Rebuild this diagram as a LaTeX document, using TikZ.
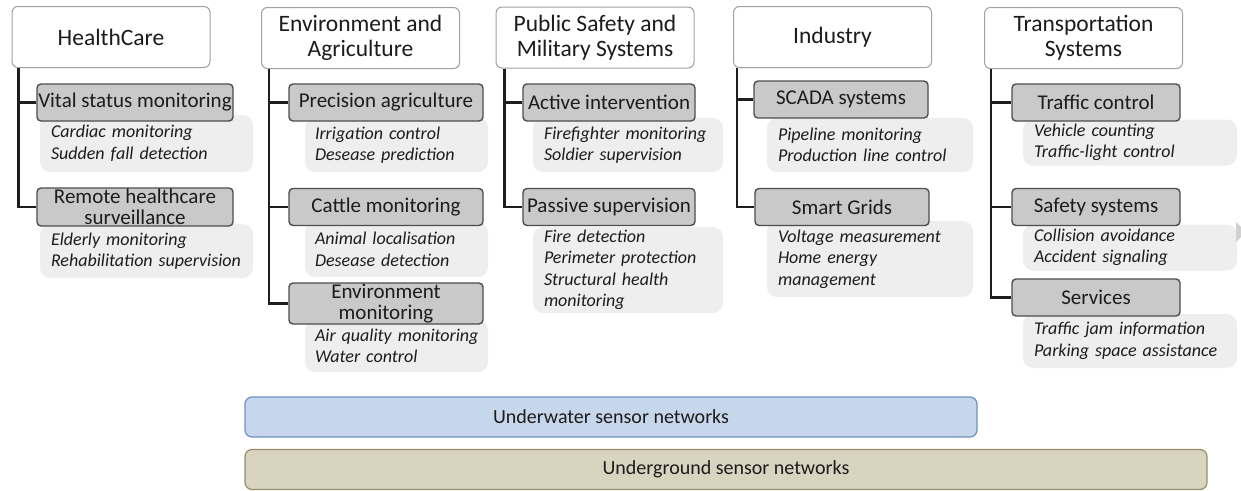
\documentclass[tikz,border=0pt]{standalone}
\usepackage{fontspec}
\setmainfont{Carlito}
\usepackage{tikz}
\usetikzlibrary{calc}
\hyphenpenalty=10000
\exhyphenpenalty=10000
\definecolor{txt}{HTML}{1C1C1C}
\definecolor{arealine}{HTML}{A0A0A0}
\definecolor{subfill}{HTML}{C9C9C9}
\definecolor{subline}{HTML}{4D4D4D}
\definecolor{detfill}{HTML}{EEEEEE}
\definecolor{trunkcol}{HTML}{1E1E1E}
\definecolor{waterfill}{HTML}{C6D6EB}
\definecolor{waterline}{HTML}{6E8FC3}
\definecolor{groundfill}{HTML}{D9D4BF}
\definecolor{groundline}{HTML}{978D69}

\begin{document}
\begin{tikzpicture}[x=1pt,y=-1pt,
	area/.style={draw=arealine,fill=white,line width=1pt,rounded corners=6pt,minimum width=198pt,minimum height=61pt,inner sep=0pt,align=center,text=txt,font=\fontsize{23.5}{25}\selectfont},
	sub/.style={draw=subline,fill=subfill,line width=1.4pt,rounded corners=4pt,minimum height=37pt,inner sep=0pt,align=center,text=txt,font=\fontsize{21}{20.5}\selectfont},
	detail/.style={fill=detfill,rounded corners=10pt,inner xsep=11pt,inner ysep=0pt,align=left,text=txt,font=\itshape\fontsize{18}{21.5}\selectfont},
	trunk/.style={draw=trunkcol,line width=2.4pt},
	bar/.style={line width=1.2pt,rounded corners=7pt,minimum height=40pt,inner sep=0pt,text=txt,font=\fontsize{20}{22}\selectfont}]
	\useasboundingbox (0,0) rectangle (1241,490);
	
	% application areas
	\node[area](hc)at(111,37) {HealthCare};
	\node[area](ea)at(360.5,38) {Environment and\\Agriculture};
	\node[area](ps)at(595,37.5) {Public Safety and\\Military Systems};
	\node[area](ind)at(832.5,37) {Industry};
	\node[area](tr)at(1083.5,38) {Transportation\\Systems};
	
	% examples
	\node[detail,minimum height=57pt,text width=191pt](hc1d)at(146.5,143.5) {Cardiac monitoring\\Sudden fall detection};
	\node[detail,minimum height=54pt,text width=191pt](hc2d)at(146.5,251) {Elderly monitoring\\Rehabilitation supervision};
	\node[detail,minimum height=54pt,inner xsep=10pt,text width=163pt](ea1d)at(396.5,145) {Irrigation control\\Desease prediction};
	\node[detail,minimum height=55pt,inner xsep=10pt,text width=163pt](ea2d)at(396.5,249.5) {Animal localisation\\Desease detection};
	\node[detail,minimum height=52pt,inner xsep=10pt,text width=163pt](ea3d)at(396.5,346) {Air~quality~monitoring\\Water control};
	\node[detail,minimum height=54pt,text width=168pt](ps1d)at(628,145) {Firefighter monitoring\\Soldier supervision};
	\node[detail,minimum height=86pt,text width=168pt](ps2d)at(628,270) {Fire detection\\Perimeter protection\\Structural health\\monitoring};
	\node[detail,minimum height=54pt,text width=184pt](ind1d)at(870,145) {Pipeline monitoring\\Production line control};
	\node[detail,minimum height=76pt,text width=184pt](ind2d)at(870,259) {Voltage measurement\\Home energy\\management};
	\node[detail,minimum height=46pt,text width=192pt](tr1d)at(1130,142.5) {Vehicle counting\\Traffic-light control};
	\node[detail,minimum height=46pt,text width=192pt](tr2d)at(1130,247.5) {Collision avoidance\\Accident signaling};
	\node[detail,minimum height=54pt,text width=192pt](tr3d)at(1130,341) {Traffic jam information\\Parking space assistance};
	
	% sub areas
	\node[sub,minimum width=196pt](hc1)at(135,102.5) {Vital status monitoring};
	\node[sub,minimum width=196pt,minimum height=38pt](hc2)at(135,207) {Remote healthcare\\surveillance};
	\node[sub,minimum width=194pt](ea1)at(386,102.5) {Precision agriculture};
	\node[sub,minimum width=194pt](ea2)at(386,207) {Cattle monitoring};
	\node[sub,minimum width=194pt,minimum height=41pt](ea3)at(386,303.5) {Environment\\monitoring};
	\node[sub,minimum width=172pt](ps1)at(609,102.5) {Active intervention};
	\node[sub,minimum width=172pt](ps2)at(609,207) {Passive supervision};
	\node[sub,minimum width=174pt](ind1)at(841,99.5) {SCADA systems};
	\node[sub,minimum width=174pt](ind2)at(842,207) {Smart Grids};
	\node[sub,minimum width=168pt](tr1)at(1096,102.5) {Traffic control};
	\node[sub,minimum width=168pt](tr2)at(1096,207) {Safety systems};
	\node[sub,minimum width=168pt](tr3)at(1096,297.5) {Services};
	
	% tree lines
	\draw[trunk]([xshift=7pt]hc.south west) |- (hc1);
	\draw[trunk]([xshift=7pt]hc.south west) |- (hc2);
	\draw[trunk]([xshift=8pt]ea.south west) |- (ea1);
	\draw[trunk]([xshift=8pt]ea.south west) |- (ea2);
	\draw[trunk]([xshift=8pt]ea.south west) |- (ea3);
	\draw[trunk]([xshift=9pt]ps.south west) |- (ps1);
	\draw[trunk]([xshift=9pt]ps.south west) |- (ps2);
	\draw[trunk]([xshift=4pt]ind.south west) |- (ind1);
	\draw[trunk]([xshift=4pt]ind.south west) |- (ind2);
	\draw[trunk]([xshift=7pt]tr.south west) |- (tr1);
	\draw[trunk]([xshift=7pt]tr.south west) |- (tr2);
	\draw[trunk]([xshift=7pt]tr.south west) |- (tr3);
	
	% network types
	\node[bar,draw=waterline,fill=waterfill,minimum width=732pt](water)at(611,417) {Underwater sensor networks};
	\node[bar,draw=groundline,fill=groundfill,minimum width=962pt](ground)at(726,469.5) {Underground sensor networks};
	
	\fill[black!18](1236,222) -- (1246,232) -- (1236,242) -- cycle;
\end{tikzpicture}
\end{document}
